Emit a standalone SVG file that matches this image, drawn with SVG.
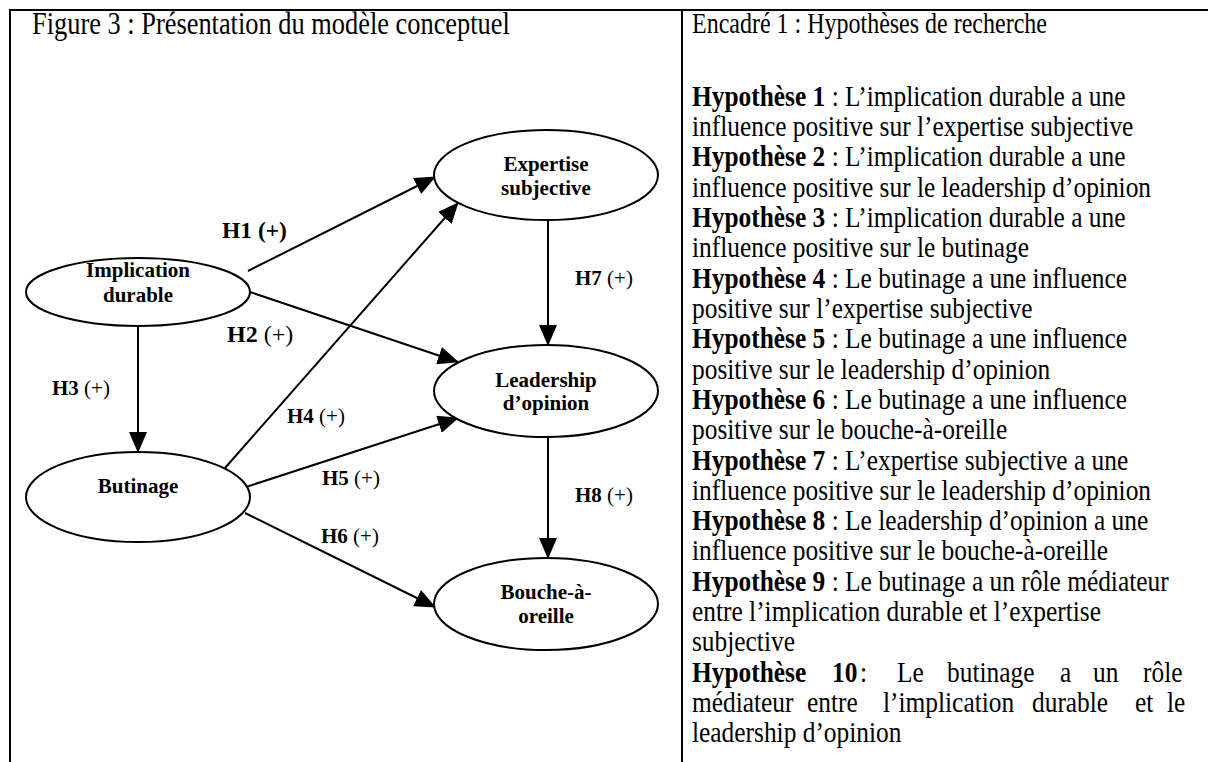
<svg xmlns="http://www.w3.org/2000/svg" width="1208" height="762" viewBox="0 0 1208 762">
<style>
text{font-family:"Liberation Serif","Times New Roman",serif;fill:#000}
.node{fill:#fff;stroke:#000;stroke-width:2}
.nl{font-size:21px;font-weight:bold;text-anchor:middle}
.lbl{font-size:21px}
.b{font-weight:bold}
.hyp{font-size:25.4px}
.frame{stroke:#000;stroke-width:2;fill:none}
.conn line{stroke:#000;stroke-width:2;marker-end:url(#ah)}
</style>
<defs>
<marker id="ah" markerUnits="userSpaceOnUse" markerWidth="21" markerHeight="18" viewBox="0 0 21 18" refX="20" refY="9" orient="auto">
<path d="M0,0 L21,9 L0,18 z" fill="#000"/>
</marker>
</defs>
<rect width="1208" height="762" fill="#fff"/>
<g id="frame">
<line class="frame" x1="9" y1="10" x2="1208" y2="10"/>
<line class="frame" x1="10" y1="9" x2="10" y2="762"/>
<line class="frame" x1="682" y1="9" x2="682" y2="762"/>
</g>
<text x="32" y="0" font-size="26.4" transform="matrix(1 0 0 1.22 0 34)">Figure 3 : Présentation du modèle conceptuel</text>
<text x="692" y="0" font-size="24" transform="matrix(1 0 0 1.24 0 33)">Encadré 1 : Hypothèses de recherche</text>
<g class="conn" id="connectors">
<line x1="248" y1="271" x2="435" y2="177"/>
<line x1="250" y1="292" x2="458" y2="362"/>
<line x1="138" y1="326" x2="138" y2="452"/>
<line x1="225" y1="468" x2="458" y2="203"/>
<line x1="243" y1="488" x2="458" y2="418"/>
<line x1="245" y1="513" x2="435" y2="607"/>
<line x1="548" y1="221" x2="548" y2="345"/>
<line x1="548" y1="437" x2="548" y2="558"/>
</g>
<g id="edge-labels">
<text x="222" y="238" font-size="23.5" class="b">H1 (+)</text>
<text x="227" y="342" font-size="24"><tspan class="b">H2</tspan> (+)</text>
<text x="52" y="395" class="lbl"><tspan class="b">H3</tspan> (+)</text>
<text x="287" y="423" class="lbl"><tspan class="b">H4</tspan> (+)</text>
<text x="322" y="485" class="lbl"><tspan class="b">H5</tspan> (+)</text>
<text x="321" y="543" class="lbl"><tspan class="b">H6</tspan> (+)</text>
<text x="575" y="285" class="lbl"><tspan class="b">H7</tspan> (+)</text>
<text x="575" y="502" class="lbl"><tspan class="b">H8</tspan> (+)</text>
</g>
<g id="implication">
<ellipse class="node" cx="138" cy="292" rx="112" ry="34"/>
<text class="nl" x="138" y="277">Implication</text>
<text class="nl" x="138" y="302">durable</text>
</g>
<g id="butinage">
<ellipse class="node" cx="138" cy="497" rx="112" ry="45"/>
<text class="nl" x="138" y="493">Butinage</text>
</g>
<g id="expertise">
<ellipse class="node" cx="546" cy="175" rx="112" ry="45"/>
<text class="nl" x="546" y="171">Expertise</text>
<text class="nl" x="546" y="195">subjective</text>
</g>
<g id="leadership">
<ellipse class="node" cx="546" cy="391" rx="112" ry="46"/>
<text class="nl" x="546" y="387">Leadership</text>
<text class="nl" x="546" y="410">d’opinion</text>
</g>
<g id="bouche">
<ellipse class="node" cx="546" cy="604" rx="112" ry="46"/>
<text class="nl" x="546" y="599">Bouche-à-</text>
<text class="nl" x="546" y="623">oreille</text>
</g>
<g id="hypotheses" class="hyp">
<text x="692" y="0" transform="matrix(1 0 0 1.2 0 106)"><tspan class="b">Hypothèse 1</tspan> : L’implication durable a une</text>
<text x="692" y="0" transform="matrix(1 0 0 1.2 0 136)">influence positive sur l’expertise subjective</text>
<text x="692" y="0" transform="matrix(1 0 0 1.2 0 166)"><tspan class="b">Hypothèse 2</tspan> : L’implication durable a une</text>
<text x="692" y="0" transform="matrix(1 0 0 1.2 0 197)">influence positive sur le leadership d’opinion</text>
<text x="692" y="0" transform="matrix(1 0 0 1.2 0 227)"><tspan class="b">Hypothèse 3</tspan> : L’implication durable a une</text>
<text x="692" y="0" transform="matrix(1 0 0 1.2 0 257)">influence positive sur le butinage</text>
<text x="692" y="0" transform="matrix(1 0 0 1.2 0 288)"><tspan class="b">Hypothèse 4</tspan> : Le butinage a une influence</text>
<text x="692" y="0" transform="matrix(1 0 0 1.2 0 318)">positive sur l’expertise subjective</text>
<text x="692" y="0" transform="matrix(1 0 0 1.2 0 348)"><tspan class="b">Hypothèse 5</tspan> : Le butinage a une influence</text>
<text x="692" y="0" transform="matrix(1 0 0 1.2 0 379)">positive sur le leadership d’opinion</text>
<text x="692" y="0" transform="matrix(1 0 0 1.2 0 409)"><tspan class="b">Hypothèse 6</tspan> : Le butinage a une influence</text>
<text x="692" y="0" transform="matrix(1 0 0 1.2 0 439)">positive sur le bouche-à-oreille</text>
<text x="692" y="0" transform="matrix(1 0 0 1.2 0 470)"><tspan class="b">Hypothèse 7</tspan> : L’expertise subjective a une</text>
<text x="692" y="0" transform="matrix(1 0 0 1.2 0 500)">influence positive sur le leadership d’opinion</text>
<text x="692" y="0" transform="matrix(1 0 0 1.2 0 530)"><tspan class="b">Hypothèse 8</tspan> : Le leadership d’opinion a une</text>
<text x="692" y="0" transform="matrix(1 0 0 1.2 0 560)">influence positive sur le bouche-à-oreille</text>
<text x="692" y="0" transform="matrix(1 0 0 1.2 0 591)"><tspan class="b">Hypothèse 9</tspan> : Le butinage a un rôle médiateur</text>
<text x="692" y="0" transform="matrix(1 0 0 1.2 0 621)">entre l’implication durable et l’expertise</text>
<text x="692" y="0" transform="matrix(1 0 0 1.2 0 651)">subjective</text>
<g transform="matrix(1 0 0 1.2 0 682)">
<text x="692" y="0" class="b">Hypothèse</text>
<text x="832" y="0" class="b">10</text>
<text x="860" y="0">:</text>
<text x="897" y="0">Le</text>
<text x="947" y="0">butinage</text>
<text x="1060" y="0">a</text>
<text x="1093" y="0">un</text>
<text x="1143" y="0">rôle</text>
</g>
<g transform="matrix(1 0 0 1.2 0 712)">
<text x="692" y="0">médiateur</text>
<text x="807" y="0">entre</text>
<text x="883" y="0">l’implication</text>
<text x="1032" y="0">durable</text>
<text x="1135" y="0">et</text>
<text x="1167" y="0">le</text>
</g>
<text x="692" y="0" transform="matrix(1 0 0 1.2 0 742)">leadership d’opinion</text>
</g>
</svg>
